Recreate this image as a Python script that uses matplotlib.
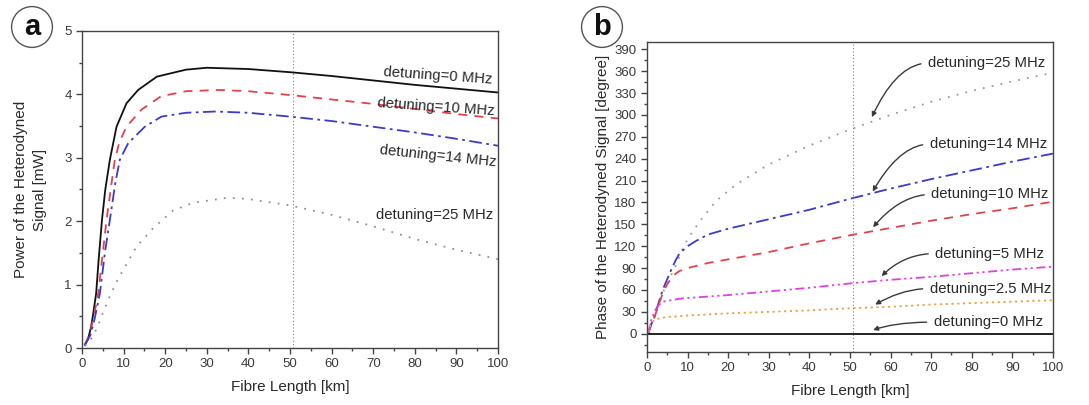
import matplotlib
matplotlib.use("Agg")
import matplotlib.pyplot as plt
from matplotlib.ticker import MultipleLocator

plt.rcParams['font.family'] = ['Liberation Sans', 'DejaVu Sans']

# ---- Panel a: power of the heterodyned signal [mW] vs fibre length [km]
pa_x_0 = [0.7, 1.5, 2.2, 2.6, 3.4, 4.0, 4.8, 5.6, 6.7, 8.3, 10.7, 13.5, 18, 25, 30, 40, 50, 60, 70, 80, 90, 100]
pa_y_0 = [0.05, 0.15, 0.34, 0.5, 0.86, 1.39, 2.02, 2.5, 2.97, 3.49, 3.86, 4.07, 4.28, 4.39, 4.42, 4.40, 4.35, 4.29, 4.22, 4.15, 4.09, 4.03]
pa_x_10 = [0.7, 2, 3, 3.9, 5, 5.9, 7, 7.9, 9, 10.7, 14.3, 19, 25, 33, 40, 50, 60, 70, 80, 90, 100]
pa_y_10 = [0.05, 0.25, 0.55, 0.86, 1.5, 2.02, 2.55, 2.97, 3.25, 3.49, 3.76, 3.97, 4.05, 4.07, 4.05, 3.99, 3.92, 3.85, 3.77, 3.69, 3.62]
pa_x_14 = [0.7, 2, 3, 4.3, 5.5, 6.7, 8, 9.1, 11.1, 15.1, 19.1, 25, 32, 40, 50, 60, 70, 80, 90, 100]
pa_y_14 = [0.05, 0.2, 0.45, 0.86, 1.5, 2.02, 2.6, 2.97, 3.23, 3.49, 3.65, 3.71, 3.73, 3.71, 3.65, 3.58, 3.49, 3.40, 3.30, 3.19]
pa_x_25 = [0.7, 2, 3.5, 5, 6.3, 8.5, 10.5, 13.1, 17.1, 21.9, 26.7, 35, 40, 50, 60, 70, 80, 90, 100]
pa_y_25 = [0.03, 0.12, 0.3, 0.55, 0.76, 1.07, 1.3, 1.6, 1.89, 2.17, 2.29, 2.37, 2.35, 2.25, 2.1, 1.92, 1.72, 1.55, 1.4]

# ---- Panel b: phase of the heterodyned signal [degree] vs fibre length [km]
pb_x_25 = [0.3, 1, 3, 5, 7, 9, 11, 13, 17, 22, 30, 40, 50, 60, 70, 80, 90, 100]
pb_y_25 = [0, 15, 45, 70, 92, 120, 138, 154, 182, 205, 232, 258, 280, 300, 318, 333, 346, 358]
pb_x_14 = [0.3, 1, 2, 3, 4, 5, 6, 7, 8, 10, 12, 15, 20, 30, 40, 50, 60, 70, 80, 90, 100]
pb_y_14 = [0, 12, 25, 45, 62, 75, 88, 100, 110, 120, 127, 136, 144, 157, 170, 185, 199, 212, 224, 236, 247]
pb_x_10 = [0.3, 1, 2, 3, 4, 5, 6, 7, 8, 10, 15, 20, 30, 40, 50, 60, 70, 80, 90, 100]
pb_y_10 = [0, 12, 25, 42, 57, 68, 76, 82, 86, 90, 97, 102, 112, 124, 135, 145, 155, 164, 172, 181]
pb_x_5 = [0.3, 1, 2, 3, 4, 6, 8, 10, 15, 20, 30, 40, 50, 60, 70, 80, 90, 100]
pb_y_5 = [0, 18, 32, 40, 44, 46, 48, 49, 51, 53, 58, 63, 69, 74, 78, 83, 88, 92]
pb_x_2_5 = [0.3, 1, 2, 3, 5, 8, 10, 20, 30, 40, 50, 60, 70, 80, 90, 100]
pb_y_2_5 = [2, 15, 19, 21, 23, 24, 25, 28, 30, 32, 35, 37, 40, 42, 44, 46]
pb_x_0 = [0, 100]
pb_y_0 = [0, 0]

marker_km = 50.8

# label text, text anchor (km, value), arrow tip (km, value), arrow end angle
pb_labels = ["detuning=25 MHz", "detuning=14 MHz", "detuning=10 MHz",
             "detuning=5 MHz", "detuning=2.5 MHz", "detuning=0 MHz"]
pb_text_xy = [(69.2, 371), (69.6, 260), (70.0, 191), (71.0, 110), (69.6, 62), (70.6, 16)]
pb_tip_xy = [(55.4, 297), (55.6, 195), (55.7, 146), (57.8, 79), (56.2, 40), (55.7, 5)]
pb_tip_angle = [65, 60, 50, 45, 30, 20]

TXT = '#2a2a2a'
AX = '#444444'

fig = plt.figure(figsize=(10.89, 4.05), dpi=100)
ax_a = fig.add_axes([0.0753, 0.1407, 0.382, 0.7828])
ax_b = fig.add_axes([0.5941, 0.1309, 0.3728, 0.7654])


def style_axes(ax):
    for s in ax.spines.values():
        s.set_color(AX)
        s.set_linewidth(1.0)
    ax.tick_params(which='both', direction='out', colors=AX, labelcolor='#3a3a3a',
                   labelsize=9.5, top=False, right=False)
    ax.tick_params(which='major', length=4, width=1.0)
    ax.tick_params(which='minor', length=2.5, width=1.0)
    ax.xaxis.set_major_locator(MultipleLocator(10))
    ax.xaxis.set_minor_locator(MultipleLocator(5))
    ax.set_xlim(0, 100)
    ax.set_xlabel('Fibre Length [km]', fontsize=11, color=TXT, labelpad=7)


# panel a
ax_a.plot(pa_x_0, pa_y_0, color='#111111', lw=1.3, ls='-')
ax_a.plot(pa_x_10, pa_y_10, color='#e8404a', lw=1.3, ls=(0, (5, 4)))
ax_a.plot(pa_x_14, pa_y_14, color='#3a3ad0', lw=1.3, ls=(0, (7, 2.5, 1.5, 2.5)))
ax_a.plot(pa_x_25, pa_y_25, color='#909090', lw=1.3, ls=(0, (1, 4)))
ax_a.axvline(marker_km, color='#808080', lw=0.8, ls=(0, (1, 2)))
ax_a.set_ylim(0, 5)
ax_a.yaxis.set_major_locator(MultipleLocator(1))
ax_a.yaxis.set_minor_locator(MultipleLocator(0.5))
style_axes(ax_a)
ax_a.set_ylabel('Power of the Heterodyned\nSignal [mW]', fontsize=11, color=TXT,
                linespacing=1.45, labelpad=12)

for txt, xy, rot in [("detuning=0 MHz", (72.4, 4.35), -4),
                     ("detuning=10 MHz", (71.0, 3.86), -4),
                     ("detuning=14 MHz", (71.5, 3.12), -6),
                     ("detuning=25 MHz", (70.7, 2.10), 0)]:
    ax_a.text(xy[0], xy[1], txt, fontsize=10.7, color=TXT, ha='left', va='center',
              rotation=rot, rotation_mode='anchor')

# panel b
ax_b.plot(pb_x_25, pb_y_25, color='#9a9a9a', lw=1.3, ls=(0, (1, 4)))
ax_b.plot(pb_x_14, pb_y_14, color='#3a3ad0', lw=1.3, ls=(0, (7, 2.5, 1.5, 2.5)))
ax_b.plot(pb_x_10, pb_y_10, color='#e8404a', lw=1.3, ls=(0, (5, 4)))
ax_b.plot(pb_x_5, pb_y_5, color='#e040e0', lw=1.3, ls=(0, (5, 2, 1.2, 2, 1.2, 2)))
ax_b.plot(pb_x_2_5, pb_y_2_5, color='#f0a040', lw=1.3, ls=(0, (1.2, 2)))
ax_b.plot(pb_x_0, pb_y_0, color='#111111', lw=1.3, ls='-')
ax_b.axvline(marker_km, color='#808080', lw=0.8, ls=(0, (1, 2)))
ax_b.set_ylim(-25, 400)
ax_b.yaxis.set_minor_locator(MultipleLocator(15))
ax_b.set_yticks(range(0, 391, 30))
style_axes(ax_b)
ax_b.set_ylabel('Phase of the Heterodyned Signal [degree]', fontsize=11, color=TXT, labelpad=3)

for txt, txy, pxy, ang in zip(pb_labels, pb_text_xy, pb_tip_xy, pb_tip_angle):
    ax_b.annotate(txt, xy=pxy, xytext=txy, fontsize=10.7, color=TXT, ha='left', va='center',
                  arrowprops=dict(arrowstyle='-|>', color='#3a3a3a', lw=1.0,
                                  connectionstyle=f'angle3,angleA=0,angleB={ang}',
                                  relpos=(0, 0.5), shrinkA=3, shrinkB=0,
                                  mutation_scale=7))

# panel tags
for tag, (fx, fy) in [('a', (32 / 1089, 1 - 27 / 405)), ('b', (602 / 1089, 1 - 27 / 405))]:
    fig.text(fx, fy, tag, fontsize=21, fontweight='bold', color='#111111', ha='center', va='center',
             bbox=dict(boxstyle='circle,pad=0.22', fc='white', ec='#555555', lw=1.0))

fig.savefig('out.png', dpi=100, facecolor='white')
